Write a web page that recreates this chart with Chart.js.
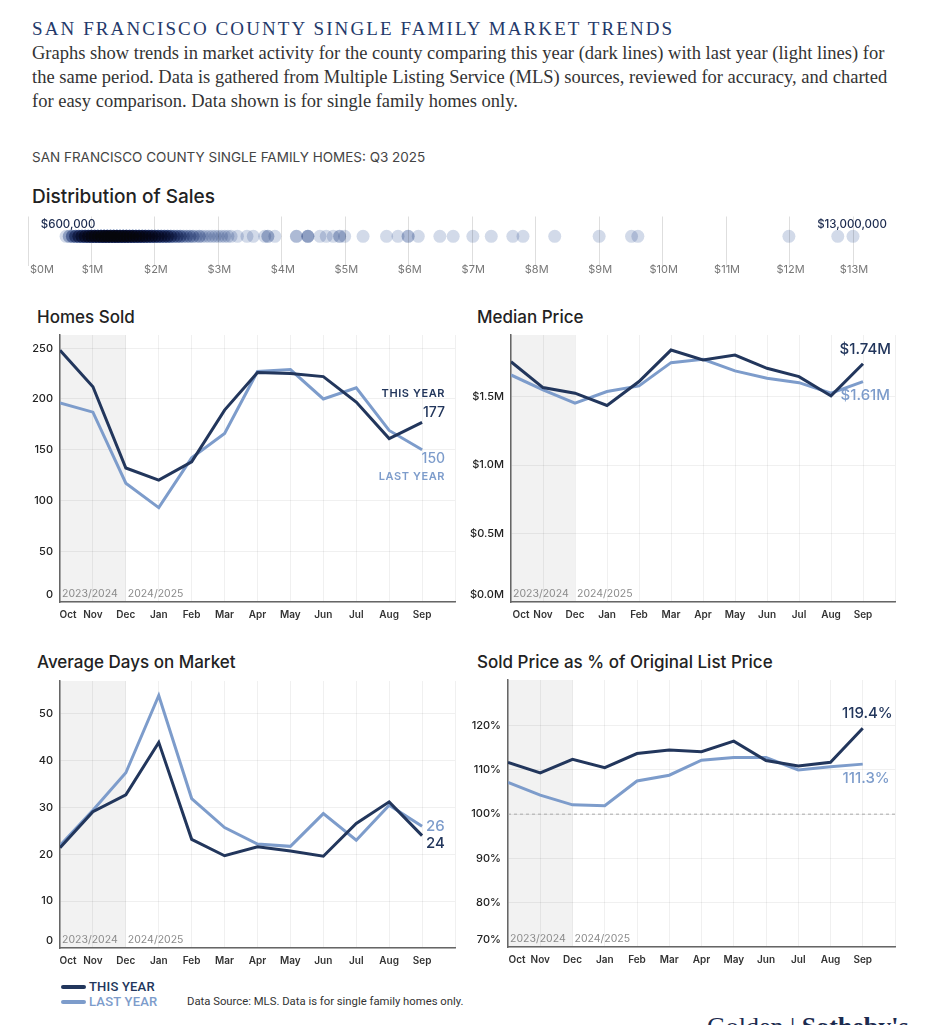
<!DOCTYPE html>
<html>
<head>
<meta charset="utf-8">
<script src="https://cdn.jsdelivr.net/npm/chart.js@4.4.1/dist/chart.umd.min.js"></script>
<style>
  body { margin: 0; background: #fff; width: 944px; height: 1025px; overflow: hidden; position: relative; font-family: Inter, "Noto Sans", sans-serif; }
  .abs { position: absolute; white-space: nowrap; }
  #mainTitle { left: 32px; top: 18px; font: 19px "Liberation Serif", serif; letter-spacing: 2.1px; color: #24396a; }
  #intro { left: 32px; top: 41px; font: 18.5px/24px "Liberation Serif", serif; color: #333; }
  #subTitle { left: 32px; top: 149px; font: 13.5px Inter, sans-serif; color: #444; }
  .secTitle { font-size: 17px; font-weight: 500; color: #222; }
  canvas { position: absolute; }
  .legLine { position: absolute; width: 25px; height: 4px; border-radius: 2px; }
  .legText { font: 500 13px Roboto, sans-serif; letter-spacing: 0.2px; }
  #source { left: 187px; top: 995px; font: 11.3px Roboto, sans-serif; color: #333; }
  #logo { left: 707px; top: 1012px; font: 26px "Liberation Serif", serif; color: #1c2b4f; }
</style>
</head>
<body>

<div class="abs" id="mainTitle">SAN FRANCISCO COUNTY SINGLE FAMILY MARKET TRENDS</div>
<div class="abs" id="intro">Graphs show trends in market activity for the county comparing this year (dark lines) with last year (light lines) for<br>the same period. Data is gathered from Multiple Listing Service (MLS) sources, reviewed for accuracy, and charted<br>for easy comparison. Data shown is for single family homes only.</div>
<div class="abs" id="subTitle">SAN FRANCISCO COUNTY SINGLE FAMILY HOMES: Q3 2025</div>

<div class="abs secTitle" style="left:32px;top:185px;font-size:19px;">Distribution of Sales</div>
<canvas id="distChart" width="900" height="70" style="left:20px;top:210px;"></canvas>

<div class="abs secTitle" style="left:37px;top:307px;">Homes Sold</div>
<canvas id="homesChart" width="450" height="300" style="left:20px;top:330px;"></canvas>

<div class="abs secTitle" style="left:477px;top:307px;">Median Price</div>
<canvas id="medianChart" width="450" height="300" style="left:460px;top:330px;"></canvas>

<div class="abs secTitle" style="left:37px;top:652px;">Average Days on Market</div>
<canvas id="domChart" width="450" height="300" style="left:20px;top:675px;"></canvas>

<div class="abs secTitle" style="left:477px;top:652px;">Sold Price as % of Original List Price</div>
<canvas id="pctChart" width="450" height="300" style="left:460px;top:674px;"></canvas>

<div class="legLine" style="left:61px;top:985px;background:#22365c;"></div>
<div class="abs legText" style="left:89px;top:979px;color:#22365c;">THIS YEAR</div>
<div class="legLine" style="left:61px;top:1000px;background:#7d9ccb;"></div>
<div class="abs legText" style="left:89px;top:994px;color:#7d9ccb;">LAST YEAR</div>
<div class="abs" id="source">Data Source: MLS. Data is for single family homes only.</div>
<div class="abs" id="logo">Golden | <b>Sotheby's</b></div>

<script>
// ---- data ----
const months = ['Oct', 'Nov', 'Dec', 'Jan', 'Feb', 'Mar', 'Apr', 'May', 'Jun', 'Jul', 'Aug', 'Sep'];
const seasonLabels = ['2023/2024', '2024/2025'];

const homesThis = [248, 212, 132, 120, 138, 189, 226, 225, 222, 197, 161, 177];
const homesLast = [196, 187, 117, 93, 142, 166, 227, 229, 200, 211, 169, 150];
const homesTicks = [0, 50, 100, 150, 200, 250];

const medianThis = [1.755, 1.566, 1.525, 1.435, 1.61, 1.84, 1.768, 1.804, 1.707, 1.646, 1.505, 1.74];
const medianLast = [1.658, 1.549, 1.452, 1.537, 1.578, 1.748, 1.773, 1.688, 1.634, 1.602, 1.525, 1.61];
const medianTicks = [0, 0.5, 1.0, 1.5];

const domThis = [21.4, 29.1, 32.7, 43.9, 23.2, 19.7, 21.6, 20.7, 19.6, 26.6, 31.2, 24];
const domLast = [21.9, 29.4, 37.4, 53.9, 31.9, 25.7, 22.2, 21.7, 28.7, 23.0, 30.5, 26];
const domTicks = [0, 10, 20, 30, 40, 50];

const pctThis = [111.7, 109.3, 112.4, 110.5, 113.7, 114.5, 114.1, 116.5, 112.1, 110.9, 111.7, 119.4];
const pctLast = [107.2, 104.3, 102.1, 101.9, 107.5, 108.8, 112.2, 112.8, 112.8, 110.0, 110.7, 111.3];
const pctTicks = [70, 80, 90, 100, 110, 120];

// sale prices ($M) and how many sales sit at each
const distPrices = [0.60, 0.65, 0.70, 0.75, 0.80, 0.85, 0.90, 0.95, 1.00, 1.05, 1.10, 1.15, 1.20, 1.25, 1.30, 1.35,
  1.40, 1.45, 1.50, 1.55, 1.60, 1.65, 1.70, 1.75, 1.80, 1.85, 1.90, 1.95, 2.00, 2.05, 2.10, 2.15, 2.20, 2.25,
  2.30, 2.35, 2.40, 2.45, 2.50, 2.55, 2.60, 2.65, 2.70, 2.75, 2.80, 2.85, 2.90, 2.95, 3.00, 3.05, 3.10, 3.15,
  3.20, 3.30, 3.45, 3.55, 3.73, 3.78, 3.89, 4.23, 4.41, 4.60, 4.70, 4.81, 4.91, 4.99, 5.28, 5.65,
  5.83, 5.99, 6.15, 6.49, 6.70, 7.01, 7.30, 7.64, 7.80, 8.30, 9.00, 9.51, 9.61, 11.99, 12.76, 13.00];
const distCounts = [1, 2, 3, 4, 5, 6, 7, 8, 9, 10, 10, 11, 12, 12, 12, 12,
  12, 11, 11, 11, 10, 10, 9, 9, 8, 8, 7, 7, 6, 6, 5, 5, 5, 4,
  3, 3, 3, 2, 2, 2, 2, 1, 2, 1, 1, 1, 1, 1, 1, 1, 1, 1,
  1, 1, 1, 1, 1, 2, 1, 2, 3, 1, 1, 1, 2, 1, 1, 1,
  1, 2, 1, 1, 1, 1, 1, 1, 1, 1, 1, 1, 1, 1, 1, 1];
const distTicks = ['$0M', '$1M', '$2M', '$3M', '$4M', '$5M', '$6M', '$7M', '$8M', '$9M', '$10M', '$11M', '$12M', '$13M'];

// ---- colours ----
const DARK = '#22365c';
const LIGHT = '#7d9ccb';
const GRID = 'rgba(0,0,0,0.06)';
const AXIS = '#666';

// ---- distribution of sales ----
const distPoints = [];
distPrices.forEach((p, i) => {
  for (let k = 0; k < distCounts[i]; k++) distPoints.push({ x: p, y: 0 });
});

// overlapping dots darken each other towards black
const multiplyDots = {
  id: 'multiplyDots',
  beforeDatasetsDraw(chart) {
    chart.ctx.save();
    chart.ctx.globalCompositeOperation = 'multiply';
  },
  afterDatasetsDraw(chart) {
    chart.ctx.restore();
  }
};

const distLabels = {
  id: 'distLabels',
  afterDraw(chart) {
    const { ctx, chartArea, scales: { x, y } } = chart;
    ctx.save();
    ctx.font = '11px Inter, sans-serif';
    ctx.fillStyle = '#777';
    ctx.textAlign = 'center';
    ctx.textBaseline = 'middle';
    distTicks.forEach((t, i) => {
      ctx.fillText(t, x.getPixelForValue(i) + (i === 0 ? 14 : 1), chartArea.bottom + 4);
    });
    // min / max price above the strip
    const lo = Math.min(...distPrices), hi = Math.max(...distPrices);
    const fmt = v => '$' + Math.round(v * 1e6).toLocaleString('en-US');
    ctx.font = '500 11.5px Inter, sans-serif';
    ctx.fillStyle = '#1c2b4f';
    ctx.fillText(fmt(lo), x.getPixelForValue(lo) + 2, y.getPixelForValue(0) - 12);
    ctx.fillText(fmt(hi), x.getPixelForValue(hi) - 1, y.getPixelForValue(0) - 12);
    ctx.restore();
  }
};

new Chart(document.getElementById('distChart'), {
  type: 'scatter',
  data: {
    datasets: [{
      data: distPoints,
      pointRadius: 6.5,
      pointBackgroundColor: 'rgb(210,218,233)',
      pointBorderWidth: 0,
      clip: false
    }]
  },
  options: {
    responsive: false,
    animation: false,
    layout: { padding: { top: 6, bottom: 14, left: 8, right: 67 } },
    plugins: { legend: { display: false }, tooltip: { enabled: false } },
    scales: {
      x: {
        type: 'linear', min: 0, max: 13,
        afterBuildTicks: s => { s.ticks = distTicks.map((t, i) => ({ value: i })); },
        afterFit: s => { s.height = 0; },
        ticks: { display: false },
        grid: { color: 'rgba(0,0,0,0.13)', drawTicks: false },
        border: { display: false }
      },
      y: { display: false, min: -1.2, max: 0.8 }
    }
  },
  plugins: [multiplyDots, distLabels]
});

// ---- month line charts ----
// cfg holds label formatting and end-of-line notes for one chart
function seasonPlugin(cfg) {
  return {
    id: 'season',
    beforeDraw(chart) {
      const { ctx, chartArea, scales: { x } } = chart;
      const x0 = x.getPixelForValue(0), x1 = x.getPixelForValue(2);
      ctx.save();
      ctx.fillStyle = '#f2f2f2';
      ctx.fillRect(x0, chartArea.top, x1 - x0, chartArea.bottom - chartArea.top);
      ctx.restore();
    },
    afterDraw(chart) {
      const { ctx, chartArea, scales: { x, y } } = chart;
      ctx.save();
      ctx.textBaseline = 'middle';
      // bottom y label sits a little above the axis
      ctx.font = '500 11px Inter, sans-serif';
      ctx.fillStyle = '#222';
      ctx.textAlign = 'right';
      ctx.fillText(cfg.yFmt(cfg.yTicks[0]), chartArea.left - 7, y.getPixelForValue(cfg.yTicks[0]) - 7);
      // season labels
      ctx.font = '10.5px Inter, sans-serif';
      ctx.fillStyle = '#8a8a8a';
      ctx.textAlign = 'left';
      ctx.fillText(seasonLabels[0], x.getPixelForValue(0) + 2, chartArea.bottom - 8);
      ctx.fillText(seasonLabels[1], x.getPixelForValue(2) + 2, chartArea.bottom - 8);
      // month labels
      ctx.font = '600 10px Inter, sans-serif';
      ctx.fillStyle = '#333';
      ctx.textAlign = 'center';
      months.forEach((m, i) => {
        ctx.fillText(m, x.getPixelForValue(i) + (i === 0 ? cfg.firstNudge : 0), chartArea.bottom + 13);
      });
      // reference line
      if (cfg.refLine !== undefined) {
        const yy = y.getPixelForValue(cfg.refLine);
        ctx.strokeStyle = '#aaa';
        ctx.lineWidth = 1;
        ctx.setLineDash([3, 3]);
        ctx.beginPath();
        ctx.moveTo(chartArea.left, yy);
        ctx.lineTo(chartArea.right, yy);
        ctx.stroke();
        ctx.setLineDash([]);
      }
      // end-of-line notes
      cfg.notes.forEach(n => {
        const ds = chart.data.datasets[n.ds].data;
        const last = ds.length - 1;
        const px = x.getPixelForValue(last), py = y.getPixelForValue(ds[last].y);
        ctx.font = n.font;
        ctx.fillStyle = n.color;
        ctx.textAlign = n.align;
        ctx.letterSpacing = n.spacing || '0px';
        ctx.fillText(n.text || cfg.fmt(ds[last].y), px + n.dx, py + n.dy);
        ctx.letterSpacing = '0px';
      });
      ctx.restore();
    }
  };
}

// line datasets use the month index as x on a linear axis
const asXY = arr => arr.map((v, i) => ({ x: i, y: v }));

function makeMonthChart(id, thisYear, lastYear, yMin, yMax, yWidth, padTop, xHeight, cfg) {
  new Chart(document.getElementById(id), {
    type: 'line',
    data: {
      datasets: [
        { data: asXY(thisYear), borderColor: DARK, borderWidth: 3, pointRadius: 0, tension: 0, order: 0 },
        { data: asXY(lastYear), borderColor: LIGHT, borderWidth: 3, pointRadius: 0, tension: 0, order: 1 }
      ]
    },
    options: {
      responsive: false,
      animation: false,
      layout: { padding: { top: padTop, right: 15, left: 0, bottom: 0 } },
      plugins: { legend: { display: false }, tooltip: { enabled: false } },
      scales: {
        x: {
          type: 'linear', min: 0, max: 12,
          afterBuildTicks: s => { s.ticks = [0, 1, 2, 3, 4, 5, 6, 7, 8, 9, 10, 11, 12].map(v => ({ value: v })); },
          afterFit: s => { s.height = xHeight; s.paddingLeft = 0; s.paddingRight = 0; },
          ticks: { display: false },
          grid: { color: GRID, drawTicks: false },
          border: { color: AXIS, width: 1.5 }
        },
        y: {
          min: yMin, max: yMax,
          afterBuildTicks: s => { s.ticks = cfg.yTicks.map(v => ({ value: v })); },
          afterFit: s => { s.width = yWidth; s.paddingTop = 0; s.paddingBottom = 0; },
          ticks: {
            padding: 7,
            color: '#222',
            font: { family: 'Inter', size: 11, weight: '500' },
            callback: v => (v === cfg.yTicks[0] ? '' : cfg.yFmt(v))
          },
          grid: { color: GRID, drawTicks: false },
          border: { color: AXIS, width: 1.5 }
        }
      }
    },
    plugins: [seasonPlugin(cfg)]
  });
}

const noteBig = '500 14px Inter, sans-serif';
const noteTag = '600 11px Inter, sans-serif';
const noteVal = '500 15px Inter, sans-serif';

makeMonthChart('homesChart', homesThis, homesLast, 0, 263, 40, 5, 28, {
  yTicks: homesTicks,
  yFmt: v => String(v),
  firstNudge: 8,
  fmt: v => String(Math.round(v)),
  notes: [
    { ds: 0, text: 'THIS YEAR', dx: 23, dy: -29, align: 'right', font: noteTag, color: DARK, spacing: '0.6px' },
    { ds: 0, dx: 23, dy: -10, align: 'right', font: noteBig, color: DARK },
    { ds: 1, dx: 23, dy: 9, align: 'right', font: noteBig, color: LIGHT },
    { ds: 1, text: 'LAST YEAR', dx: 23, dy: 27, align: 'right', font: noteTag, color: LIGHT, spacing: '0.6px' }
  ]
});

makeMonthChart('medianChart', medianThis, medianLast, 0, 1.95, 51, 5, 28, {
  yTicks: medianTicks,
  yFmt: v => '$' + v.toFixed(1) + 'M',
  firstNudge: 10,
  fmt: v => '$' + v.toFixed(2) + 'M',
  notes: [
    { ds: 0, dx: 28, dy: -14, align: 'right', font: noteVal, color: DARK },
    { ds: 1, dx: 27, dy: 14, align: 'right', font: noteVal, color: LIGHT }
  ]
});

makeMonthChart('domChart', domThis, domLast, 0, 57, 40, 6, 27, {
  yTicks: domTicks,
  yFmt: v => String(v),
  firstNudge: 8,
  fmt: v => String(Math.round(v)),
  notes: [
    { ds: 1, dx: 4, dy: 0, align: 'left', font: noteVal, color: LIGHT },
    { ds: 0, dx: 4, dy: 8, align: 'left', font: noteVal, color: DARK }
  ]
});

makeMonthChart('pctChart', pctThis, pctLast, 70, 130.3, 48, 6, 27, {
  yTicks: pctTicks,
  yFmt: v => v + '%',
  firstNudge: 9,
  refLine: 100,
  fmt: v => v.toFixed(1) + '%',
  notes: [
    { ds: 0, dx: 30, dy: -15, align: 'right', font: noteVal, color: DARK },
    { ds: 1, dx: 27, dy: 14, align: 'right', font: noteVal, color: LIGHT }
  ]
});
</script>
</body>
</html>
